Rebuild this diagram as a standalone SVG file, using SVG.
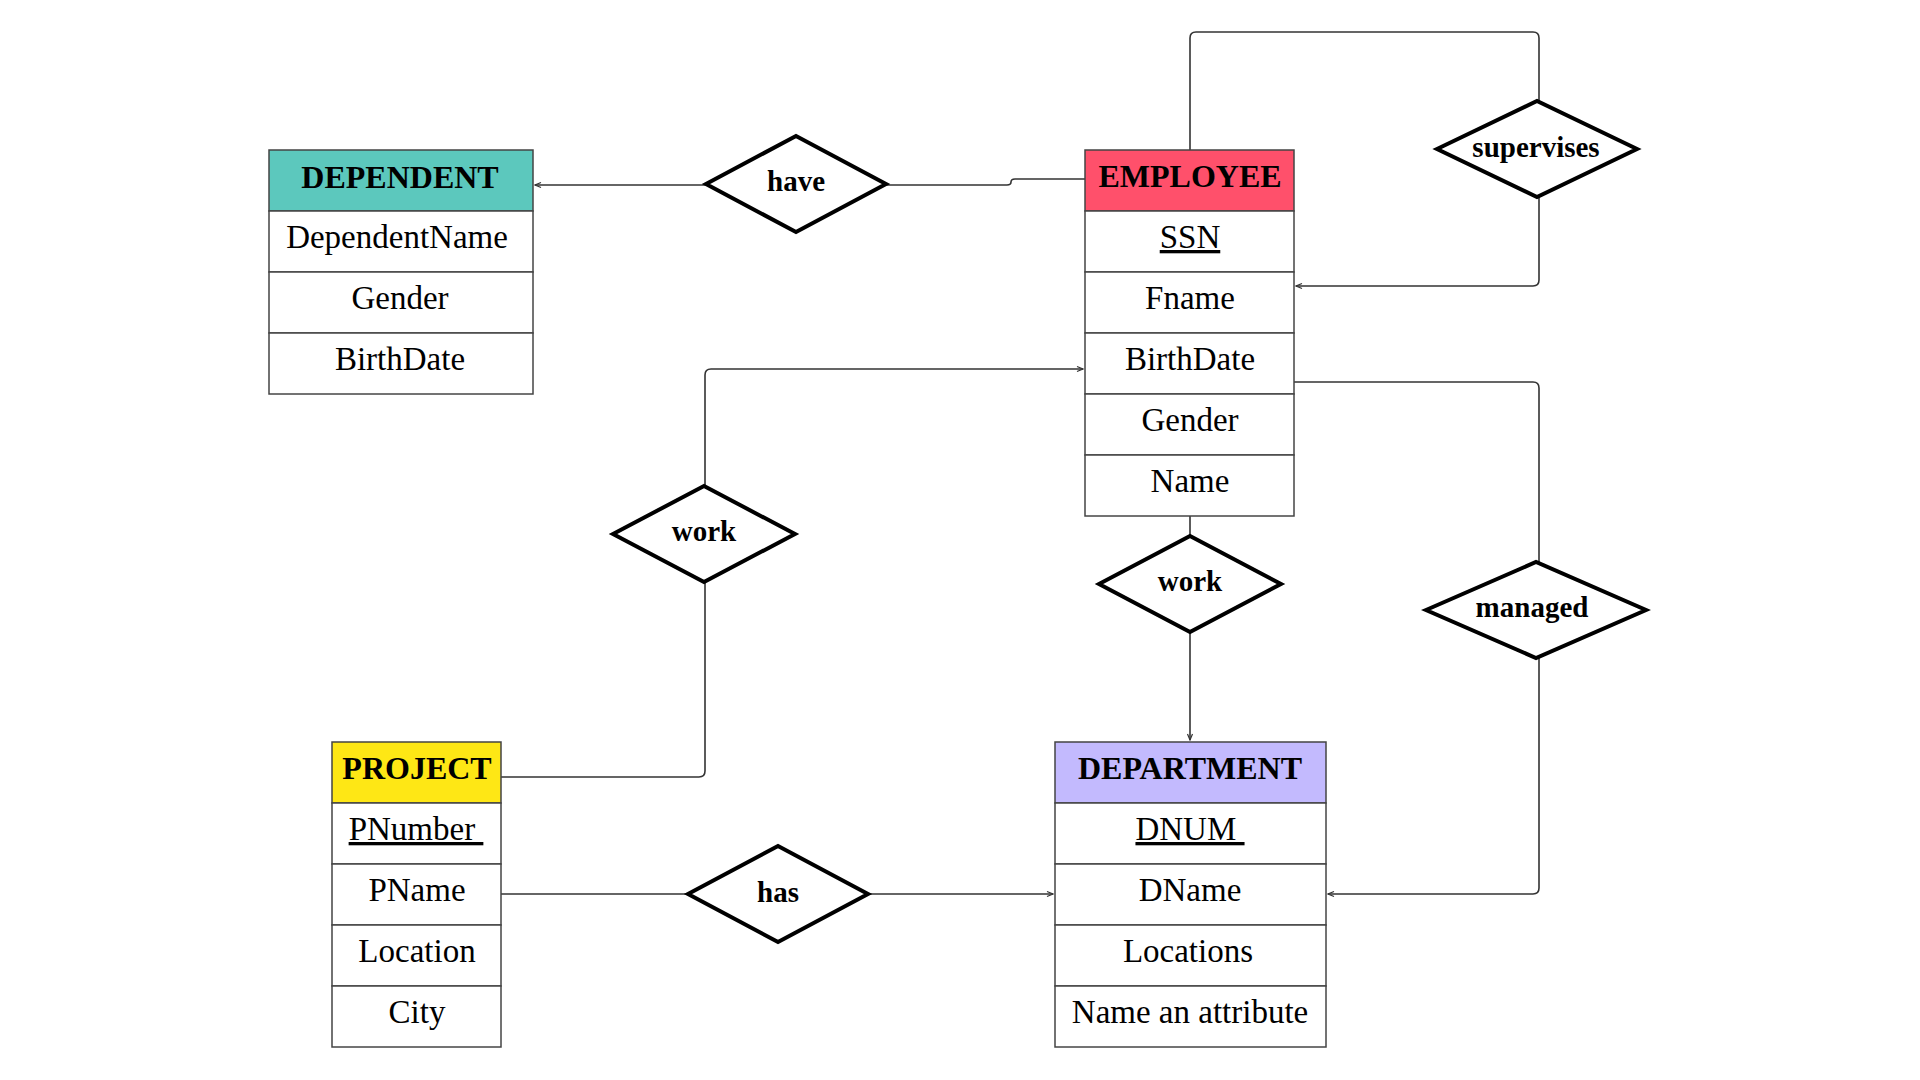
<svg xmlns="http://www.w3.org/2000/svg" width="1920" height="1080" viewBox="0 0 1920 1080">
<style>
.cell{fill:#ffffff;stroke:#444444;stroke-width:1.5}
.hd{font-family:"Liberation Serif","Times New Roman",serif;font-size:32px;font-weight:bold;fill:#000;text-anchor:middle}
.at{font-family:"Liberation Serif","Times New Roman",serif;font-size:33px;fill:#000;text-anchor:middle}
.u{text-decoration:underline}
.dia{fill:#ffffff;stroke:#000;stroke-width:4;stroke-linejoin:miter}
.dl{font-family:"Liberation Serif","Times New Roman",serif;font-size:29px;font-weight:bold;fill:#000;text-anchor:middle}
.con{fill:none;stroke:#333333;stroke-width:1.6}
</style>
<defs>
<marker id="arr" markerUnits="userSpaceOnUse" markerWidth="8" markerHeight="8" viewBox="0 0 8 8" refX="7" refY="4" orient="auto">
<path d="M1,1.5 L7,4 L1,6.5" fill="none" stroke="#333" stroke-width="1.2"/>
</marker>
</defs>
<rect width="1920" height="1080" fill="#ffffff"/>

<g id="connectors">
<path class="con" d="M706,185 H535" marker-end="url(#arr)"/>
<path class="con" d="M886,185 H1007 Q1011,185 1011,182 Q1011,179 1015,179 H1085"/>
<path class="con" d="M1190,150 V38 Q1190,32 1196,32 H1533 Q1539,32 1539,38 V101"/>
<path class="con" d="M1539,197 V280 Q1539,286 1533,286 H1296" marker-end="url(#arr)"/>
<path class="con" d="M1294,382 H1533 Q1539,382 1539,388 V562"/>
<path class="con" d="M1539,658 V888 Q1539,894 1533,894 H1328" marker-end="url(#arr)"/>
<path class="con" d="M1190,516 V536"/>
<path class="con" d="M1190,632 V740" marker-end="url(#arr)"/>
<path class="con" d="M705,486 V375 Q705,369 711,369 H1083" marker-end="url(#arr)"/>
<path class="con" d="M705,582 V771 Q705,777 699,777 H501"/>
<path class="con" d="M501,894 H688"/>
<path class="con" d="M868,894 H1053" marker-end="url(#arr)"/>
</g>

<g id="dependent">
<rect class="cell" x="269" y="150" width="264" height="61" style="fill:#5cc8bd"/>
<rect class="cell" x="269" y="211" width="264" height="61"/>
<rect class="cell" x="269" y="272" width="264" height="61"/>
<rect class="cell" x="269" y="333" width="264" height="61"/>
<text class="hd" x="400" y="188">DEPENDENT</text>
<text class="at" x="397" y="248">DependentName</text>
<text class="at" x="400" y="309">Gender</text>
<text class="at" x="400" y="370">BirthDate</text>
</g>

<g id="employee">
<rect class="cell" x="1085" y="150" width="209" height="61" style="fill:#ff506b"/>
<rect class="cell" x="1085" y="211" width="209" height="61"/>
<rect class="cell" x="1085" y="272" width="209" height="61"/>
<rect class="cell" x="1085" y="333" width="209" height="61"/>
<rect class="cell" x="1085" y="394" width="209" height="61"/>
<rect class="cell" x="1085" y="455" width="209" height="61"/>
<text class="hd" x="1190" y="187">EMPLOYEE</text>
<text class="at u" x="1190" y="248">SSN</text>
<text class="at" x="1190" y="309">Fname</text>
<text class="at" x="1190" y="370">BirthDate</text>
<text class="at" x="1190" y="431">Gender</text>
<text class="at" x="1190" y="492">Name</text>
</g>

<g id="project">
<rect class="cell" x="332" y="742" width="169" height="61" style="fill:#fee715"/>
<rect class="cell" x="332" y="803" width="169" height="61"/>
<rect class="cell" x="332" y="864" width="169" height="61"/>
<rect class="cell" x="332" y="925" width="169" height="61"/>
<rect class="cell" x="332" y="986" width="169" height="61"/>
<text class="hd" x="417" y="779">PROJECT</text>
<text class="at u" x="416" y="840" xml:space="preserve">PNumber </text>
<text class="at" x="417" y="901">PName</text>
<text class="at" x="417" y="962">Location</text>
<text class="at" x="417" y="1023">City</text>
</g>

<g id="department">
<rect class="cell" x="1055" y="742" width="271" height="61" style="fill:#c3bafe"/>
<rect class="cell" x="1055" y="803" width="271" height="61"/>
<rect class="cell" x="1055" y="864" width="271" height="61"/>
<rect class="cell" x="1055" y="925" width="271" height="61"/>
<rect class="cell" x="1055" y="986" width="271" height="61"/>
<text class="hd" x="1190" y="779">DEPARTMENT</text>
<text class="at u" x="1190" y="840" xml:space="preserve">DNUM </text>
<text class="at" x="1188" y="962">Locations</text>
<text class="at" x="1190" y="901">DName</text>
<text class="at" x="1190" y="1023">Name an attribute</text>
</g>

<g id="rel-have">
<polygon class="dia" points="706,184 796,136 886,184 796,232"/>
<text class="dl" x="796" y="191">have</text>
</g>
<g id="rel-supervises">
<polygon class="dia" points="1437,149 1537,101 1637,149 1537,197"/>
<text class="dl" x="1536" y="157">supervises</text>
</g>
<g id="rel-managed">
<polygon class="dia" points="1426,610 1536,562 1646,610 1536,658"/>
<text class="dl" x="1532" y="617">managed</text>
</g>
<g id="rel-work-dept">
<polygon class="dia" points="1099,584 1190,536 1281,584 1190,632"/>
<text class="dl" x="1190" y="591">work</text>
</g>
<g id="rel-work-project">
<polygon class="dia" points="613,534 704,486 795,534 704,582"/>
<text class="dl" x="704" y="541">work</text>
</g>
<g id="rel-has">
<polygon class="dia" points="688,894 778,846 868,894 778,942"/>
<text class="dl" x="778" y="902">has</text>
</g>
</svg>
